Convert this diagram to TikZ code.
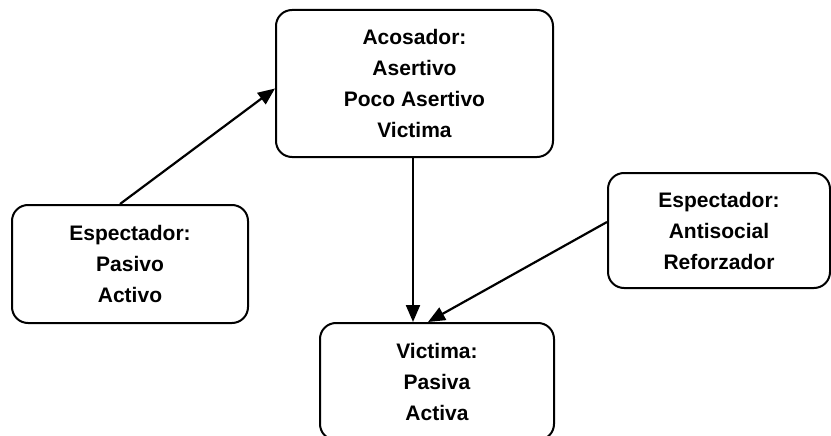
\documentclass[tikz,border=0pt]{standalone}
\usepackage{fontspec}
\setmainfont{Liberation Sans}
\usetikzlibrary{arrows.meta}
\tikzset{
    every node/.style={rectangle, rounded corners=16pt, draw, line width=2pt, inner sep=0pt,
        align=center, font=\bfseries\fontsize{21}{31}\selectfont}
}
\tikzset{link/.style={line width=2.2pt, -{Triangle[length=17pt, width=14pt]}}}

\begin{document}
\begin{tikzpicture}[x=1pt, y=-1pt]
        \useasboundingbox (0,0) rectangle (831,436);
        \clip (0,0) rectangle (831,436);
        \node (aco) [minimum width=277pt, minimum height=147pt] at (414.5, 83.5) {Acosador:\\Asertivo\\Poco Asertivo\\Victima};
        \node (espa) [minimum width=236pt, minimum height=118pt] at (130, 264) {Espectador:\\Pasivo\\Activo};
        \node (espb) [minimum width=222pt, minimum height=115pt] at (719, 230.5) {Espectador:\\Antisocial\\Reforzador};
        \node (vic) [minimum width=234pt, minimum height=117pt] at (437, 381.5) {Victima:\\Pasiva\\Activa};
        \draw [link] ([xshift=-10pt]espa.north) -- ([yshift=-5pt]aco.west);
        \draw [link] ([xshift=-1.5pt]aco.south) -- ([xshift=-24pt]vic.north);
        \draw [link] ([yshift=8.5pt]espb.west) -- ([xshift=-9pt]vic.north);
\end{tikzpicture}
\end{document}
